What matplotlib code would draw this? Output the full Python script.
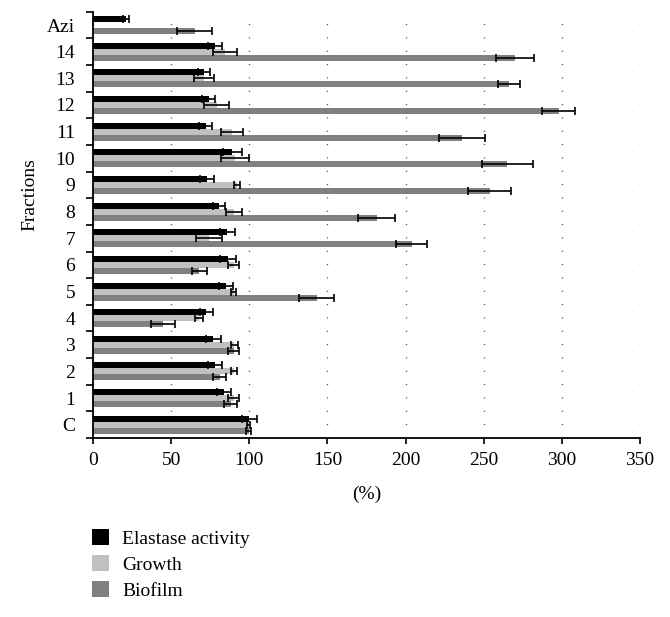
import matplotlib.pyplot as plt
import numpy as np

plt.rcParams['font.family'] = ['Liberation Serif', 'DejaVu Serif']

fractions = ['C', '1', '2', '3', '4', '5', '6', '7', '8', '9', '10', '11', '12', '13', '14', 'Azi']
elastase = [100, 84, 78, 77, 72.5, 85, 86.5, 86, 80.5, 73, 89, 72, 74, 71, 78, 21]
elastase_err = [5, 4.5, 4.7, 4.7, 4, 4.5, 5, 4.7, 4, 4.5, 6, 4.3, 4, 4, 4.7, 2]
growth = [99.5, 90, 90, 90.5, 68, 90, 90, 74, 90, 92, 91, 89, 79, 71, 84.5, np.nan]
growth_err = [1, 3.7, 2, 2.5, 2.5, 1.5, 3.5, 8.3, 5, 2, 9, 7, 8, 6.5, 7.5, np.nan]
biofilm = [99.5, 88, 81, 90, 45, 143, 68, 204, 181.5, 254, 265, 236, 298, 266, 270, 65]
biofilm_err = [1.5, 4, 4, 3.5, 7.7, 11.4, 5, 10, 12, 13.7, 16.3, 14.6, 10.4, 7, 12, 11]

series = [('Elastase activity', elastase, elastase_err, '#000000', 0.225),
          ('Growth', growth, growth_err, '#c0c0c0', 0.0),
          ('Biofilm', biofilm, biofilm_err, '#808080', -0.225)]

fig = plt.figure(figsize=(6.7, 6.17), dpi=100)
ax = fig.add_axes([0.139, 0.290, 0.816, 0.691])

y = np.arange(len(fractions))
for name, vals, errs, col, off in series:
    ax.barh(y + off, vals, height=0.225, color=col, label=name, zorder=2)
    ax.errorbar(vals, y + off, xerr=errs, fmt='none', ecolor='black',
                elinewidth=1.2, capsize=2.6, capthick=1.2, zorder=3)

ax.set_xlim(0, 350)
ax.set_ylim(-0.5, len(fractions) - 0.5)
ax.set_xticks(np.arange(0, 351, 50))
ax.set_yticks(y)
ax.set_yticklabels(fractions)
ax.set_yticks(np.arange(-0.5, len(fractions), 1), minor=True)
ax.tick_params(axis='y', which='major', length=0, pad=13, labelsize=14)
ax.tick_params(axis='y', which='minor', length=5, width=1.2, direction='out')
ax.tick_params(axis='x', length=4, width=1.2, direction='out', pad=6, labelsize=14)

ax.xaxis.grid(True, color='#555555', linewidth=1.0, linestyle=(0, (0.8, 8.8)))
ax.set_axisbelow(True)

for s in ['top', 'right']:
    ax.spines[s].set_visible(False)
for s in ['left', 'bottom']:
    ax.spines[s].set_linewidth(1.3)

ax.set_xlabel('(%)', fontsize=14, labelpad=12)
ax.set_ylabel('Fractions', fontsize=14)
ax.yaxis.set_label_coords(-0.10, 0.57)

fig.legend(loc='upper left', bbox_to_anchor=(0.137, 0.142), frameon=False,
           fontsize=14, handlelength=0.87, handleheight=0.87,
           handletextpad=0.7, labelspacing=0.38, borderpad=0, borderaxespad=0)

plt.savefig('out.png', dpi=100)
